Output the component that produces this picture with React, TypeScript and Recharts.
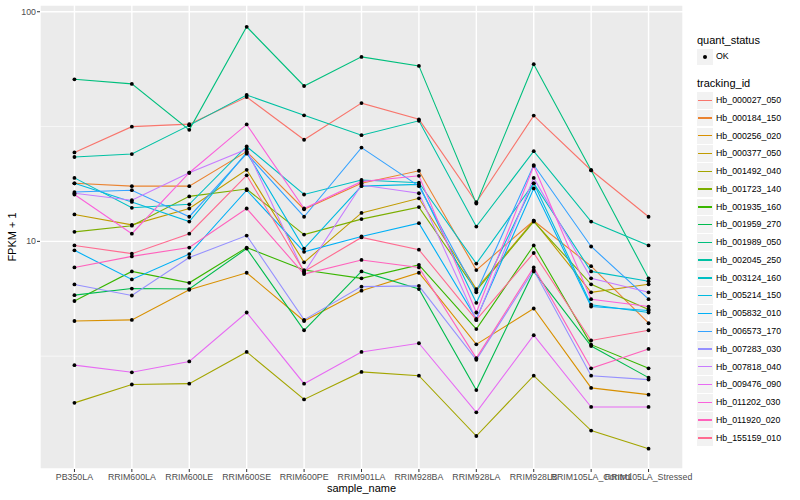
import React from 'react';
import { LineChart, Line, XAxis, YAxis, CartesianGrid } from 'recharts';

const FONT = '"Liberation Sans", Arial, Helvetica, sans-serif';

const samples = [
  'PB350LA', 'RRIM600LA', 'RRIM600LE', 'RRIM600SE', 'RRIM600PE', 'RRIM901LA',
  'RRIM928BA', 'RRIM928LA', 'RRIM928LB', 'RRIM105LA_Control', 'RRIM105LA_Stressed',
];

const trackingIds = [
  'Hb_000027_050', 'Hb_000184_150', 'Hb_000256_020', 'Hb_000377_050', 'Hb_001492_040',
  'Hb_001723_140', 'Hb_001935_160', 'Hb_001959_270', 'Hb_001989_050', 'Hb_002045_250',
  'Hb_003124_160', 'Hb_005214_150', 'Hb_005832_010', 'Hb_006573_170', 'Hb_007283_030',
  'Hb_007818_040', 'Hb_009476_090', 'Hb_011202_030', 'Hb_011920_020', 'Hb_155159_010',
];

// ggplot hue palette, 20 levels
const hueColors = [
  '#F8766D', '#EA8331', '#D89000', '#C09B00', '#A3A500',
  '#7CAE00', '#39B600', '#00BB4E', '#00BF7D', '#00C1A3',
  '#00BFC4', '#00BAE0', '#00B0F6', '#35A2FF', '#9590FF',
  '#C77CFF', '#E76BF3', '#FA62DB', '#FF62BC', '#FF6C91',
];

// FPKM + 1 per sample
const hb000027_050 = [24.4, 31.6, 32.4, 42.5, 27.7, 40.0, 34.0, 14.8, 35.3, 20.4, 12.8];
const hb000184_150 = [17.9, 17.4, 17.4, 24.6, 13.8, 17.9, 20.3, 7.5, 12.3, 7.8, 4.4];
const hb000256_020 = [4.5, 4.55, 6.15, 7.3, 4.5, 6.1, 7.3, 3.56, 5.1, 2.3, 2.15];
const hb000377_050 = [13.1, 11.8, 13.9, 20.5, 8.1, 13.3, 15.4, 6.2, 12.3, 6.0, 6.5];
const hb001492_040 = [1.98, 2.38, 2.4, 3.3, 2.05, 2.7, 2.6, 1.42, 2.6, 1.5, 1.25];
const hb001723_140 = [11.0, 11.7, 15.7, 16.9, 10.7, 12.5, 14.1, 6.1, 12.2, 6.5, 5.05];
const hb001935_160 = [5.5, 7.4, 6.6, 9.4, 7.5, 6.9, 7.9, 4.15, 9.6, 3.55, 2.8];
const hb001959_270 = [5.83, 6.23, 6.2, 9.3, 4.1, 7.4, 6.2, 2.25, 7.4, 3.5, 2.55];
const hb001989_050 = [50.8, 48.5, 30.6, 86.0, 47.5, 63.6, 58.1, 14.6, 59.1, 20.4, 6.9];
const hb002045_250 = [23.3, 24.0, 32.0, 43.4, 35.4, 29.0, 33.5, 11.6, 24.7, 12.2, 9.6];
const hb003124_160 = [18.9, 14.0, 14.5, 25.9, 16.0, 18.5, 18.0, 8.0, 17.9, 7.4, 6.7];
const hb005214_150 = [17.9, 14.85, 12.2, 24.4, 9.3, 17.4, 17.7, 5.4, 17.9, 5.3, 4.9];
const hb005832_010 = [9.14, 6.83, 8.8, 16.7, 9.0, 10.5, 12.0, 4.6, 17.0, 5.2, 5.0];
const hb006573_170 = [16.4, 16.7, 12.8, 24.1, 12.8, 25.6, 17.4, 6.0, 21.5, 9.5, 5.6];
const hb007283_030 = [6.49, 5.81, 8.5, 10.6, 4.55, 6.35, 6.4, 3.05, 7.5, 2.6, 2.5];
const hb007818_040 = [16.2, 15.1, 19.9, 25.2, 7.3, 17.6, 16.2, 4.55, 18.9, 6.9, 6.0];
const hb009476_090 = [2.89, 2.69, 3.0, 4.9, 2.4, 3.3, 3.6, 1.8, 3.9, 1.9, 1.9];
const hb011202_030 = [16.0, 10.8, 19.9, 32.3, 13.9, 18.2, 19.3, 4.9, 21.3, 5.6, 5.2];
const hb011920_020 = [7.7, 8.6, 9.4, 13.9, 7.2, 8.3, 7.7, 3.1, 7.7, 2.8, 3.4];
const hb155159_010 = [9.6, 8.84, 10.8, 19.4, 7.4, 10.4, 9.2, 4.55, 8.9, 3.7, 4.1];

const seriesValues = [
  hb000027_050, hb000184_150, hb000256_020, hb000377_050, hb001492_040,
  hb001723_140, hb001935_160, hb001959_270, hb001989_050, hb002045_250,
  hb003124_160, hb005214_150, hb005832_010, hb006573_170, hb007283_030,
  hb007818_040, hb009476_090, hb011202_030, hb011920_020, hb155159_010,
];

const rows = samples.map((_, i) => {
  const row: Record<string, number> = { x: i };
  seriesValues.forEach((vals, j) => {
    row['s' + j] = vals[i];
  });
  return row;
});

const sampleTicks = samples.map((_, i) => i);

function Legend() {
  const left = 697;
  const firstKeyTop = 92;
  const step = 17.77;
  return (
    <>
      <div style={{ position: 'absolute', left, top: 34, fontSize: 11, lineHeight: '13px' }}>quant_status</div>
      <div style={{ position: 'absolute', left, top: 49, width: 16, height: 16, background: '#F2F2F2' }}>
        <div style={{ position: 'absolute', left: 6, top: 6, width: 4, height: 4, borderRadius: 2, background: '#000' }} />
      </div>
      <div style={{ position: 'absolute', left: 716, top: 51, fontSize: 8.8, lineHeight: '11px' }}>OK</div>
      <div style={{ position: 'absolute', left, top: 77, fontSize: 11, lineHeight: '13px' }}>tracking_id</div>
      {trackingIds.map((id, j) => {
        const top = firstKeyTop + j * step;
        return (
          <React.Fragment key={id}>
            <div style={{ position: 'absolute', left, top, width: 16, height: 16.5, background: '#F2F2F2' }}>
              <div style={{ position: 'absolute', left: 1, right: 1, top: 7.5, height: 1.4, background: hueColors[j] }} />
            </div>
            <div style={{ position: 'absolute', left: 716, top: top + 3, fontSize: 8.8, lineHeight: '11px' }}>{id}</div>
          </React.Fragment>
        );
      })}
    </>
  );
}

export default function App() {
  return (
    <div style={{ position: 'absolute', left: 0, top: 0, width: 800, height: 500, background: '#fff', fontFamily: FONT, color: '#000' }}>
      <LineChart width={800} height={500} data={rows} margin={{ top: 5, right: 117, bottom: 0, left: 0 }}>
        <CartesianGrid fill="#EBEBEB" stroke="#FFFFFF" strokeWidth={1.4} />
        <CartesianGrid
          vertical={false}
          horizontalValues={[Math.sqrt(10), 10 * Math.sqrt(10)]}
          stroke="#FFFFFF"
          strokeWidth={0.6}
        />
        <XAxis
          dataKey="x"
          type="number"
          domain={[-0.6, 10.6]}
          ticks={sampleTicks}
          interval={0}
          tickFormatter={(i: number) => samples[i]}
          height={31}
          tickSize={3}
          tickMargin={2}
          axisLine={false}
          tickLine={{ stroke: '#333333' }}
          tick={{ fontSize: 8.8, fill: '#4D4D4D', fontFamily: FONT }}
        />
        <YAxis
          type="number"
          scale="log"
          domain={[1.02, 107]}
          allowDataOverflow
          ticks={[10, 100]}
          width={40}
          tickSize={3}
          tickMargin={1}
          axisLine={false}
          tickLine={{ stroke: '#333333' }}
          tick={{ fontSize: 8.8, fill: '#4D4D4D', fontFamily: FONT }}
        />
        {seriesValues.map((_, j) => (
          <Line
            key={'line' + j}
            dataKey={'s' + j}
            type="linear"
            stroke={hueColors[j]}
            strokeWidth={1.1}
            dot={false}
            activeDot={false}
            isAnimationActive={false}
          />
        ))}
        {seriesValues.map((_, j) => (
          <Line
            key={'pt' + j}
            dataKey={'s' + j}
            type="linear"
            stroke="none"
            dot={{ r: 1.9, fill: '#000', stroke: 'none' }}
            activeDot={false}
            isAnimationActive={false}
          />
        ))}
      </LineChart>
      <div
        style={{
          position: 'absolute', left: 12, top: 237, fontSize: 11, whiteSpace: 'nowrap',
          transform: 'translate(-50%, -50%) rotate(-90deg)',
        }}
      >
        FPKM + 1
      </div>
      <div
        style={{
          position: 'absolute', left: 361.5, top: 488, fontSize: 11, whiteSpace: 'nowrap',
          transform: 'translate(-50%, -50%)',
        }}
      >
        sample_name
      </div>
      <Legend />
    </div>
  );
}
